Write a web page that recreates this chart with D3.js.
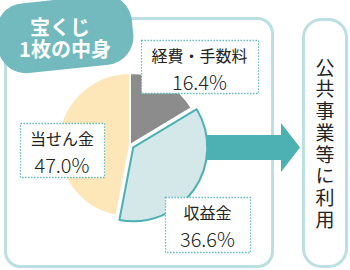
<!DOCTYPE html>
<html>
<head>
<meta charset="utf-8">
<script src="https://cdn.jsdelivr.net/npm/d3@7"></script>
<style>
  body { margin: 0; background: #fff; }
  svg { display: block; font-family: "Noto Sans CJK JP", "Noto Sans", sans-serif; }
</style>
</head>
<body>
<div id="chart"></div>
<script>
///////////////////////// data /////////////////////////
var categories = ["経費・手数料", "収益金", "当せん金"];
var values = [16.4, 36.6, 47.0];
var colors = ["#8c8c8c", "#d4e8ea", "#fde7b8"];
var titleLines = ["宝くじ", "1枚の中身"];
var useText = "公共事業等に利用";

var wdim = 350, hdim = 270;
var teal = "#4db1b3", paleTeal = "#bcdfe1";

var svg = d3.select("#chart").append("svg")
  .attr("width", wdim)
  .attr("height", hdim);

// frames
svg.append("rect")
  .attr("x", 5.5).attr("y", 18.5).attr("width", 267).attr("height", 248)
  .attr("rx", 15)
  .attr("fill", "none").attr("stroke", paleTeal).attr("stroke-width", 3);

svg.append("rect")
  .attr("x", 303.5).attr("y", 19.5).attr("width", 43).attr("height", 247)
  .attr("rx", 18)
  .attr("fill", "#fff").attr("stroke", paleTeal).attr("stroke-width", 3);

// arrow
svg.append("path")
  .attr("d", "M180,135 L281,135 L281,123 L300,147.5 L281,172 L281,160 L180,160 Z")
  .attr("fill", teal);

// pie
var cx = 130, cy = 145, r = 72;
var pie = d3.pie().sort(null).value(function(d){ return d; });
var arcs = pie(values);
var arc = d3.arc().innerRadius(0).outerRadius(r);
var arcBig = d3.arc().innerRadius(0).outerRadius(r + 2);

var g = svg.append("g").attr("transform", "translate(" + cx + "," + cy + ")");

g.selectAll("path.slice")
  .data(arcs)
  .enter().append("path")
  .attr("class", "slice")
  .attr("transform", function(d, i){
    if (i != 1) return null;
    var a = (d.startAngle + d.endAngle) / 2, off = 4;
    return "translate(" + (Math.sin(a) * off) + "," + (-Math.cos(a) * off) + ")";
  })
  .attr("d", function(d, i){ return i == 1 ? arcBig(d) : arc(d); })
  .attr("fill", function(d, i){ return colors[i]; })
  .attr("stroke", function(d, i){ return i == 1 ? teal : "#fff"; })
  .attr("stroke-width", 2)
  .attr("stroke-linejoin", "round");

// labels (dotted boxes)
var labelBoxes = [
  {x: 141, y: 40, w: 117, h: 53},
  {x: 165, y: 197, w: 85, h: 55},
  {x: 20, y: 123, w: 84, h: 54}
];

labelBoxes.forEach(function(b, i){
  svg.append("rect")
    .attr("x", b.x + 0.5).attr("y", b.y + 0.5).attr("width", b.w).attr("height", b.h)
    .attr("fill", "#fff")
    .attr("stroke", teal).attr("stroke-width", 1.3)
    .attr("stroke-dasharray", "1.3,1.7");
  svg.append("text")
    .attr("x", b.x + b.w / 2).attr("y", b.y + 22)
    .attr("text-anchor", "middle")
    .attr("font-size", 16).attr("fill", "#222")
    .text(categories[i]);
  svg.append("text")
    .attr("x", b.x + b.w / 2).attr("y", b.y + 50)
    .attr("text-anchor", "middle")
    .attr("font-size", 20).attr("font-weight", 300).attr("fill", "#222")
    .text(values[i].toFixed(1) + "%");
});

// title badge
var badge = svg.append("g").attr("transform", "translate(65,35) rotate(-6)");
badge.append("rect")
  .attr("x", -68).attr("y", -36).attr("width", 136).attr("height", 70)
  .attr("rx", 28)
  .attr("fill", "#72babd");
var tt = badge.append("text")
  .attr("text-anchor", "middle")
  .attr("transform", "rotate(6)")
  .attr("font-size", 20).attr("font-weight", "bold").attr("fill", "#fff");
titleLines.forEach(function(t, i){
  tt.append("tspan")
    .attr("x", i == 0 ? -5 : 0).attr("y", i == 0 ? 0 : 22)
    .text(t);
});

// vertical text
svg.append("text")
  .attr("x", 325).attr("y", 58)
  .attr("writing-mode", "vertical-rl")
  .attr("letter-spacing", 2.7)
  .attr("font-size", 19).attr("fill", "#222")
  .text(useText);
</script>
</body>
</html>
